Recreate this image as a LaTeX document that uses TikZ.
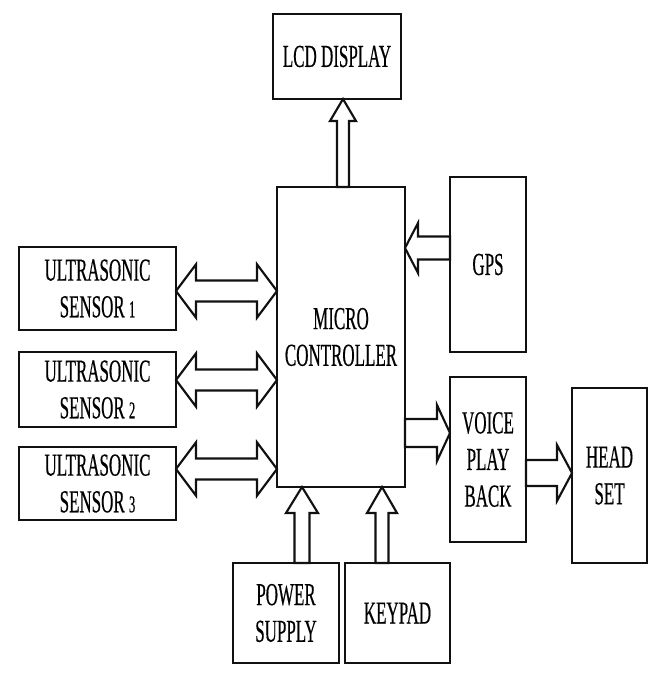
\documentclass[tikz,border=0pt]{standalone}
\usepackage{fontspec}
\usepackage{xcolor}
\usepackage{tikz}
\usetikzlibrary{calc}
\newfontfamily\blockfont[FakeStretch=0.53,FakeBold=0.4]{Liberation Serif}
\definecolor{boxline}{HTML}{111111}
\def\px{*0.75pt}
\newcommand{\snum}[1]{{\fontsize{18}{20}\selectfont #1}}

\begin{document}
\begin{tikzpicture}[x=0.75pt,y=-0.75pt,
  block/.style={draw=boxline,line width=2.2pt,fill=white,inner sep=0pt,outer sep=0pt,
    anchor=north west,align=center,font=\blockfont\fontsize{24}{27.5}\selectfont},
  fat/.style args={#1/#2/#3}{draw=boxline,line width=1.6pt,fill=white,to path={
    ($(\tikztostart)!#1!90:(\tikztotarget)$)
    -- ($($(\tikztotarget)!#3!(\tikztostart)$)!#1!90:(\tikztotarget)$)
    -- ($($(\tikztotarget)!#3!(\tikztostart)$)!#2!90:(\tikztotarget)$)
    -- (\tikztotarget)
    -- ($($(\tikztotarget)!#3!(\tikztostart)$)!#2!-90:(\tikztotarget)$)
    -- ($($(\tikztotarget)!#3!(\tikztostart)$)!#1!-90:(\tikztotarget)$)
    -- ($(\tikztostart)!#1!-90:(\tikztotarget)$) -- cycle}},
  fatboth/.style args={#1/#2/#3}{draw=boxline,line width=1.6pt,fill=white,to path={
    (\tikztostart)
    -- ($($(\tikztostart)!#3!(\tikztotarget)$)!#2!90:(\tikztotarget)$)
    -- ($($(\tikztostart)!#3!(\tikztotarget)$)!#1!90:(\tikztotarget)$)
    -- ($($(\tikztotarget)!#3!(\tikztostart)$)!#1!90:(\tikztotarget)$)
    -- ($($(\tikztotarget)!#3!(\tikztostart)$)!#2!90:(\tikztotarget)$)
    -- (\tikztotarget)
    -- ($($(\tikztotarget)!#3!(\tikztostart)$)!#2!-90:(\tikztotarget)$)
    -- ($($(\tikztotarget)!#3!(\tikztostart)$)!#1!-90:(\tikztotarget)$)
    -- ($($(\tikztostart)!#3!(\tikztotarget)$)!#1!-90:(\tikztotarget)$)
    -- ($($(\tikztostart)!#3!(\tikztotarget)$)!#2!-90:(\tikztotarget)$) -- cycle}}]

\useasboundingbox[fill=white] (0,0) rectangle (669,673);

% blocks
\node[block,minimum width=128\px,minimum height=85\px] (lcd) at (273,14) {LCD DISPLAY};
\node[block,minimum width=128\px,minimum height=300\px] (micro) at (277,187) {MICRO\\CONTROLLER};
\node[block,minimum width=76\px,minimum height=175\px] (gps) at (450,177) {GPS};
\node[block,minimum width=157\px,minimum height=83\px] (us1) at (19,247) {ULTRASONIC\\SENSOR \snum{1}};
\node[block,minimum width=157\px,minimum height=75\px] (us2) at (19,352) {ULTRASONIC\\SENSOR \snum{2}};
\node[block,minimum width=157\px,minimum height=73\px] (us3) at (19,447) {ULTRASONIC\\SENSOR \snum{3}};
\node[block,minimum width=76\px,minimum height=165\px] (voice) at (450,377) {VOICE\\PLAY\\BACK};
\node[block,minimum width=75\px,minimum height=175\px] (head) at (572,388) {HEAD\\SET};
\node[block,minimum width=106\px,minimum height=100\px] (power) at (233,563) {POWER\\SUPPLY};
\node[block,minimum width=105\px,minimum height=100\px] (keypad) at (345,563) {KEYPAD};

% arrow ends
\coordinate (lcdfoot) at ($(micro.north)+(2,0)$);
\coordinate (lcdtip) at (lcdfoot |- lcd.south);
\coordinate (gpsfoot) at ($(gps.west)+(0,-16.5)$);
\coordinate (gpstip) at (gpsfoot -| micro.east);
\coordinate (vtip) at ($(voice.west)+(0,-26.5)$);
\coordinate (vfoot) at (vtip -| micro.east);
\coordinate (hfoot) at ($(voice.east)+(0,13.5)$);
\coordinate (htip) at (hfoot -| head.west);
\coordinate (pfoot) at ($(power.north)+(16,0)$);
\coordinate (ptip) at (pfoot |- micro.south);
\coordinate (kfoot) at ($(keypad.north)+(-15.5,0)$);
\coordinate (ktip) at (kfoot |- micro.south);

\draw[fat=4.5pt/9.75pt/16.5pt] (lcdfoot) to (lcdtip);
\draw[fat=8.6pt/18.75pt/9.75pt] (gpsfoot) to (gpstip);
\draw[fat=10.5pt/21pt/9.75pt] (vfoot) to (vtip);
\draw[fat=9.75pt/21pt/11.25pt] (hfoot) to (htip);
\draw[fat=5.6pt/12pt/19.5pt] (pfoot) to (ptip);
\draw[fat=4.9pt/11.25pt/19.5pt] (kfoot) to (ktip);

\foreach \s/\dy in {us1/2.5,us2/-9.5,us3/-14.5}{
  \coordinate (from\s) at ($(\s.east)+(0,\dy)$);
  \coordinate (to\s) at (from\s -| micro.west);
  \draw[fatboth=7.9pt/20pt/15pt] (from\s) to (to\s);
}

\end{tikzpicture}
\end{document}
